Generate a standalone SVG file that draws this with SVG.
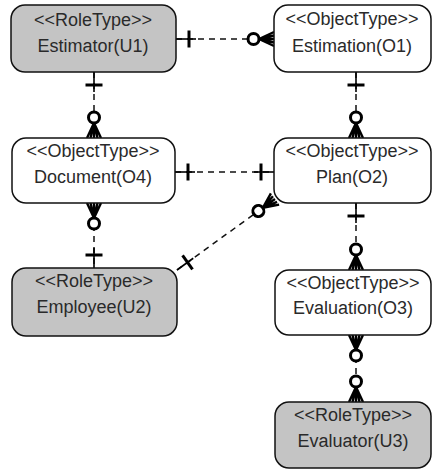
<svg xmlns="http://www.w3.org/2000/svg" width="432" height="471" viewBox="0 0 432 471">
<style>
.node rect{stroke:#111;stroke-width:1.5}
.role rect{fill:#c4c4c4}
.obj rect{fill:#ffffff}
.node text{font-family:"Liberation Sans",Arial,sans-serif;font-size:18px;fill:#2a2a2a;text-anchor:middle}
.conn path{fill:none;stroke:#111;stroke-width:1.5;stroke-dasharray:6,5}
.mk{stroke:#000;fill:none}
</style>
<defs>
<marker id="one" markerUnits="userSpaceOnUse" orient="auto-start-reverse" refX="0" refY="0" markerWidth="1" markerHeight="1" overflow="visible">
<path class="mk" d="M-20,0H0" stroke-width="1.6"/>
<path class="mk" d="M-13,-8.5V8.5" stroke-width="3"/>
</marker>
<marker id="zmany" markerUnits="userSpaceOnUse" orient="auto-start-reverse" refX="0" refY="0" markerWidth="1" markerHeight="1" overflow="visible">
<path class="mk" d="M-15,0L0,-7M-15,0L0,0M-15,0L0,7M-15,0L0,-3.5M-15,0L0,3.5" stroke-width="2.4"/>
<circle cx="-20.5" cy="0" r="5.5" fill="#fff" stroke="#000" stroke-width="3"/>
</marker>
</defs>
<g id="connectors" class="conn">
<path id="c1" d="M176,39H274" marker-start="url(#one)" marker-end="url(#zmany)"/>
<path id="c2" d="M94,72V138" marker-start="url(#one)" marker-end="url(#zmany)"/>
<path id="c3" d="M356,72V138" marker-start="url(#one)" marker-end="url(#zmany)"/>
<path id="c4" d="M175,172H274" marker-start="url(#one)" marker-end="url(#one)"/>
<path id="c5" d="M94,203V268" marker-start="url(#zmany)" marker-end="url(#one)"/>
<path id="c6" d="M177,270L275,199" marker-start="url(#one)" marker-end="url(#zmany)"/>
<path id="c7" d="M356,203V270" marker-start="url(#one)" marker-end="url(#zmany)"/>
<path id="c8" d="M356,335V402" marker-start="url(#zmany)" marker-end="url(#zmany)"/>
</g>
<g id="U1" class="node role"><rect x="11" y="5" width="165" height="67" rx="14"/><text x="93" y="26">&lt;&lt;RoleType&gt;&gt;</text><text x="93" y="52">Estimator(U1)</text></g>
<g id="O1" class="node obj"><rect x="274" y="5" width="157" height="67" rx="14"/><text x="352" y="25">&lt;&lt;ObjectType&gt;&gt;</text><text x="352" y="52">Estimation(O1)</text></g>
<g id="O4" class="node obj"><rect x="12" y="138" width="163" height="65" rx="14"/><text x="93" y="157">&lt;&lt;ObjectType&gt;&gt;</text><text x="93" y="183">Document(O4)</text></g>
<g id="O2" class="node obj"><rect x="274" y="138" width="157" height="65" rx="14"/><text x="352" y="157">&lt;&lt;ObjectType&gt;&gt;</text><text x="352" y="183">Plan(O2)</text></g>
<g id="U2" class="node role"><rect x="12" y="268" width="165" height="68" rx="14"/><text x="94" y="287">&lt;&lt;RoleType&gt;&gt;</text><text x="94" y="313">Employee(U2)</text></g>
<g id="O3" class="node obj"><rect x="275" y="270" width="156" height="65" rx="14"/><text x="353" y="289">&lt;&lt;ObjectType&gt;&gt;</text><text x="353" y="314">Evaluation(O3)</text></g>
<g id="U3" class="node role"><rect x="275" y="402" width="156" height="66" rx="14"/><text x="353" y="421">&lt;&lt;RoleType&gt;&gt;</text><text x="353" y="447">Evaluator(U3)</text></g>
</svg>
